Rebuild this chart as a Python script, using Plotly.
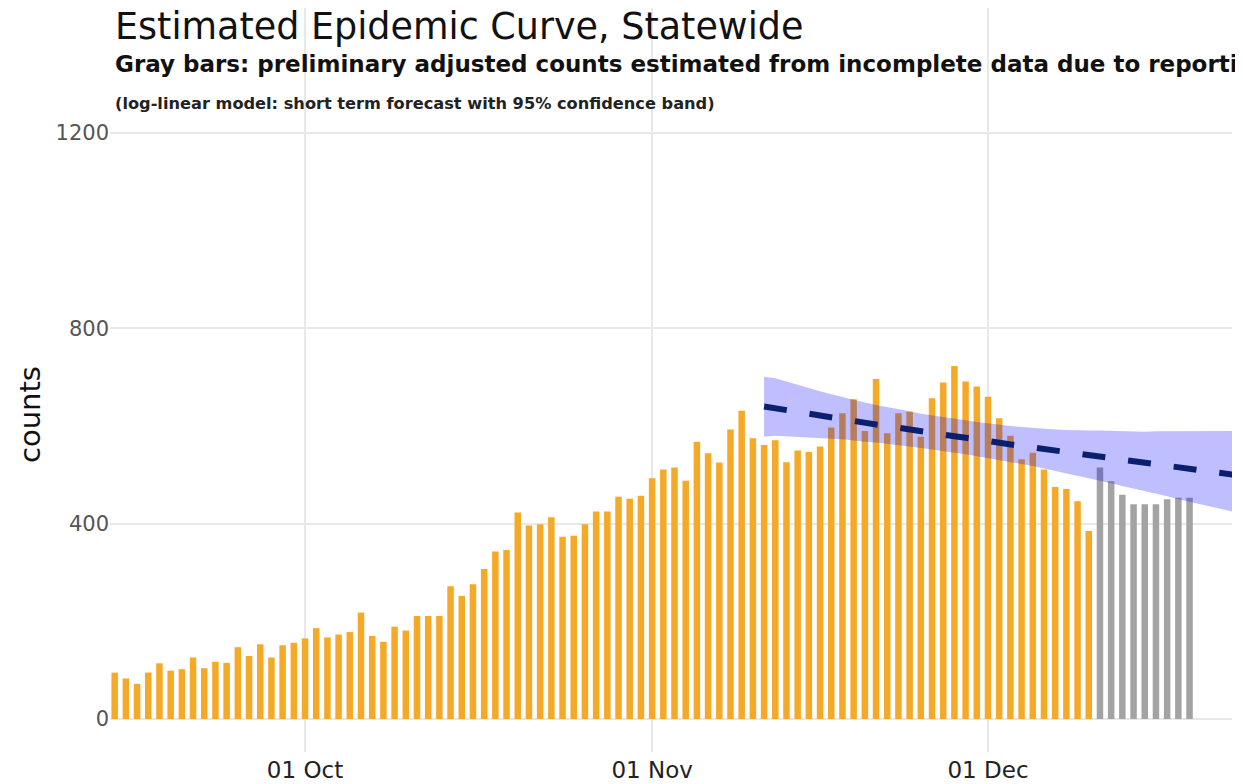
import pandas as pd
import plotly.graph_objects as go

# daily counts
observed_start = "2020-09-14"
observed_counts = [
    95, 83, 72, 95, 114, 99, 102, 126, 104, 117, 115, 147, 129, 153, 126, 151, 156,
    165, 186, 167, 173, 178, 218, 170, 158, 189, 181, 211, 211, 211, 272, 252, 276,
    307, 343, 346, 423, 396, 399, 413, 373, 375, 399, 425, 425, 455, 451, 457,
    493, 511, 515, 488, 568, 544, 525, 593, 631, 575, 561, 571, 526, 550, 547, 558,
    597, 626, 655, 590, 696, 585, 626, 629, 578, 657, 689, 723, 691, 681,
    660, 616, 580, 532, 545, 511, 475, 471, 446, 385,
]

# preliminary adjusted counts (gray)
prelim_start = "2020-12-11"
prelim_counts = [515, 487, 459, 440, 440, 440, 450, 453, 453]

# log-linear forecast with 95% band
forecast_start = "2020-11-11"
forecast_fit = [
    640, 636, 633, 629, 625, 621, 618, 614, 611, 607, 603, 600, 596, 593, 589,
    586, 583, 579, 576, 572, 569, 566, 562, 559, 556, 553, 549, 546, 543, 540,
    537, 534, 530, 527, 524, 521, 518, 515, 512, 509, 506, 503, 500,
]
forecast_upper = [
    701, 698, 691, 684, 677, 671, 665, 659, 654, 648, 643, 639, 634, 630, 625,
    622, 619, 615, 612, 608, 605, 603, 600, 598, 596, 595, 593, 592, 591, 591,
    591, 590, 589, 589, 588, 589, 589, 589, 589, 589, 590, 590, 590,
]
forecast_lower = [
    578, 580, 579, 578, 577, 575, 574, 573, 571, 568, 566, 563, 560, 558, 555,
    552, 549, 545, 542, 538, 535, 531, 526, 522, 518, 514, 508, 504, 499, 494,
    488, 483, 477, 472, 467, 461, 456, 450, 445, 440, 434, 429, 424,
]

observed_dates = pd.date_range(observed_start, periods=len(observed_counts), freq="D")
prelim_dates = pd.date_range(prelim_start, periods=len(prelim_counts), freq="D")
forecast_dates = pd.date_range(forecast_start, periods=len(forecast_fit), freq="D")

fig = go.Figure()

fig.add_trace(go.Bar(x=observed_dates, y=observed_counts, marker=dict(color="#f5a927", line=dict(width=0))))
fig.add_trace(go.Bar(x=prelim_dates, y=prelim_counts, marker=dict(color="#a3a3a3", line=dict(width=0))))

band_x = list(forecast_dates) + list(forecast_dates[::-1])
band_y = forecast_upper + forecast_lower[::-1]
fig.add_trace(go.Scatter(x=band_x, y=band_y, fill="toself", mode="lines",
                         line=dict(width=0), fillcolor="rgba(0,0,255,0.25)", hoverinfo="skip"))
fig.add_trace(go.Scatter(x=forecast_dates, y=forecast_fit, mode="lines",
                         line=dict(color="#0a1f6e", width=6, dash="23px,23px")))

text_font = "DejaVu Sans"
fig.add_annotation(text="Estimated Epidemic Curve, Statewide", xref="paper", yref="paper",
                   x=0.003, y=0.9758, xanchor="left", yanchor="middle", showarrow=False,
                   font=dict(family=text_font, size=36.5, color="#111111"))
fig.add_annotation(text="Gray bars: preliminary adjusted counts estimated from incomplete data due to reporting delay",
                   xref="paper", yref="paper", x=0.003, y=0.9247, xanchor="left", yanchor="middle",
                   showarrow=False, font=dict(family=text_font, size=23, color="#111111", weight="bold"))
fig.add_annotation(text="(log-linear model: short term forecast with 95% confidence band)",
                   xref="paper", yref="paper", x=0.003, y=0.8723, xanchor="left", yanchor="middle",
                   showarrow=False, font=dict(family=text_font, size=16.2, color="#222222", weight="bold"))
# y axis title placed as an annotation (like ggplotly does)
fig.add_annotation(text="counts", xref="paper", yref="paper", x=-0.0713, y=0.453,
                   xanchor="center", yanchor="middle", textangle=-90, showarrow=False,
                   font=dict(family=text_font, size=29, color="#111111"))

fig.update_layout(
    width=1235, height=776,
    margin=dict(l=102, r=11, t=0, b=32),
    plot_bgcolor="white", paper_bgcolor="white",
    showlegend=False, barmode="overlay", bargap=0.42,
    font=dict(family=text_font),
)
fig.update_xaxes(
    type="date", range=["2020-09-13 14:00", "2020-12-22 19:00"],
    tickvals=["2020-10-01", "2020-11-01", "2020-12-01"], tickformat="%d %b",
    tickfont=dict(family=text_font, size=23, color="#222222"),
    showgrid=True, gridcolor="#e8e8e8", gridwidth=1.5, zeroline=False, showline=False,
    ticks="", ticklabelstandoff=2,
)
fig.update_yaxes(
    range=[-67.6, 1456.0], tickvals=[0, 400, 800, 1200],
    tickfont=dict(family=text_font, size=21, color="#555555"),
    showgrid=True, gridcolor="#e8e8e8", gridwidth=1.5, zeroline=False, showline=False,
)

fig.write_html("out.html")
